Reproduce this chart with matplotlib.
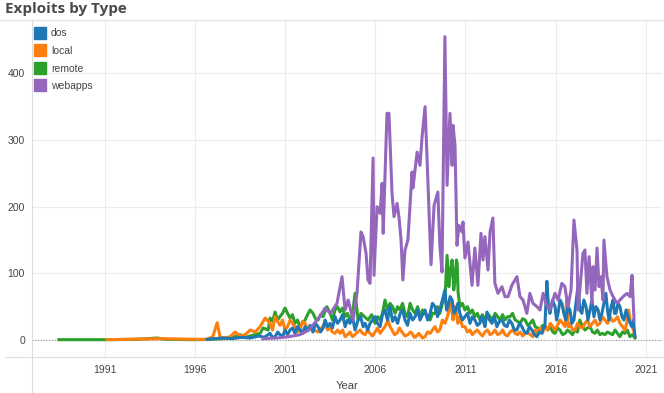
import matplotlib
matplotlib.use("Agg")
import matplotlib.pyplot as plt
from matplotlib.lines import Line2D

# ---------------- data (decimal years, exploit counts) ----------------
dos_years = [1996.68, 1997.08, 1997.58, 1998.07, 1998.57, 1999.06, 1999.56, 1999.85, 2000.17, 2000.30,
             2000.45, 2000.60, 2000.72, 2000.86, 2001.00, 2001.14, 2001.28, 2001.42, 2001.55, 2001.69,
             2001.83, 2001.97, 2002.11, 2002.25, 2002.39, 2002.47, 2002.55, 2002.69, 2002.83, 2002.97,
             2003.11, 2003.22, 2003.36, 2003.50, 2003.63, 2003.77, 2003.91, 2004.05, 2004.19, 2004.33,
             2004.46, 2004.60, 2004.74, 2004.88, 2005.05, 2005.19, 2005.33, 2005.44, 2005.58, 2005.71,
             2005.85, 2005.99, 2006.13, 2006.27, 2006.40, 2006.54, 2006.68, 2006.82, 2006.96, 2007.10,
             2007.24, 2007.38, 2007.51, 2007.65, 2007.79, 2007.93, 2008.07, 2008.21, 2008.35, 2008.48,
             2008.62, 2008.76, 2008.90, 2009.04, 2009.17, 2009.31, 2009.45, 2009.58, 2009.72, 2009.86,
             2009.95, 2010.03, 2010.15, 2010.26, 2010.37, 2010.47, 2010.58, 2010.69, 2010.83, 2010.97,
             2011.11, 2011.25, 2011.38, 2011.52, 2011.66, 2011.80, 2011.88, 2011.97, 2012.08, 2012.19,
             2012.33, 2012.47, 2012.60, 2012.74, 2012.88, 2013.02, 2013.16, 2013.30, 2013.43, 2013.57,
             2013.71, 2013.85, 2013.99, 2014.13, 2014.27, 2014.40, 2014.54, 2014.68, 2014.82, 2014.96,
             2015.10, 2015.24, 2015.32, 2015.40, 2015.51, 2015.60, 2015.68, 2015.82, 2015.96, 2016.05,
             2016.13, 2016.24, 2016.34, 2016.45, 2016.56, 2016.68, 2016.79, 2016.90, 2017.01, 2017.12,
             2017.23, 2017.34, 2017.45, 2017.56, 2017.68, 2017.79, 2017.90, 2018.01, 2018.12, 2018.23,
             2018.35, 2018.45, 2018.56, 2018.67, 2018.78, 2018.87, 2018.95, 2019.07, 2019.18, 2019.26,
             2019.34, 2019.45, 2019.56, 2019.67, 2019.78, 2019.90, 2020.01, 2020.12, 2020.23, 2020.31,
             2020.39]
dos_vals = [1, 2, 3, 2, 4, 3, 6, 4, 10, 4,
            5, 12, 8, 5, 15, 8, 15, 18, 10, 20,
            15, 10, 20, 14, 22, 18, 12, 25, 20, 12,
            18, 30, 20, 25, 18, 35, 25, 30, 38, 20,
            30, 25, 35, 15, 30, 35, 20, 25, 15, 25,
            30, 35, 25, 20, 38, 45, 30, 50, 28, 35,
            25, 40, 45, 30, 22, 40, 30, 35, 45, 30,
            38, 45, 30, 40, 55, 50, 35, 45, 60, 75,
            45, 50, 65, 60, 40, 45, 55, 40, 30, 35,
            40, 25, 35, 30, 22, 25, 35, 30, 20, 42,
            30, 25, 35, 20, 28, 30, 22, 20, 30, 25,
            15, 15, 25, 20, 12, 10, 20, 15, 8, 5,
            12, 10, 18, 20, 88, 50, 40, 60, 50, 30,
            40, 60, 55, 40, 30, 50, 45, 25, 30, 55,
            80, 45, 40, 60, 50, 30, 45, 60, 35, 50,
            45, 30, 40, 55, 70, 45, 30, 50, 60, 40,
            40, 55, 50, 35, 30, 45, 35, 25, 20, 30,
            5]

local_years = [1991.14, 1992.13, 1993.12, 1994.11, 1995.10, 1996.09, 1996.68, 1997.00, 1997.24, 1997.40,
               1997.68, 1997.96, 1998.23, 1998.51, 1998.79, 1999.07, 1999.35, 1999.62, 1999.90, 2000.17,
               2000.31, 2000.45, 2000.58, 2000.72, 2000.86, 2001.00, 2001.14, 2001.28, 2001.41, 2001.55,
               2001.69, 2001.83, 2001.97, 2002.11, 2002.25, 2002.39, 2002.60, 2002.83, 2003.02, 2003.22,
               2003.36, 2003.50, 2003.63, 2003.77, 2003.91, 2004.05, 2004.19, 2004.33, 2004.46, 2004.60,
               2004.74, 2004.88, 2005.02, 2005.16, 2005.30, 2005.44, 2005.58, 2005.71, 2005.85, 2005.99,
               2006.13, 2006.27, 2006.40, 2006.54, 2006.70, 2006.82, 2006.93, 2007.07, 2007.20, 2007.34,
               2007.48, 2007.65, 2007.81, 2007.95, 2008.04, 2008.16, 2008.26, 2008.40, 2008.48, 2008.62,
               2008.76, 2008.90, 2009.04, 2009.17, 2009.31, 2009.45, 2009.58, 2009.72, 2009.86, 2010.00,
               2010.14, 2010.26, 2010.31, 2010.40, 2010.47, 2010.58, 2010.69, 2010.83, 2010.97, 2011.11,
               2011.25, 2011.38, 2011.52, 2011.66, 2011.80, 2011.94, 2012.08, 2012.22, 2012.36, 2012.50,
               2012.64, 2012.78, 2012.92, 2013.06, 2013.19, 2013.33, 2013.47, 2013.61, 2013.75, 2013.89,
               2014.03, 2014.17, 2014.31, 2014.45, 2014.59, 2014.73, 2014.86, 2015.00, 2015.14, 2015.28,
               2015.42, 2015.56, 2015.70, 2015.84, 2015.96, 2016.10, 2016.24, 2016.38, 2016.52, 2016.60,
               2016.70, 2016.79, 2016.93, 2017.07, 2017.21, 2017.34, 2017.48, 2017.62, 2017.76, 2017.90,
               2018.04, 2018.18, 2018.31, 2018.45, 2018.59, 2018.73, 2018.87, 2019.01, 2019.15, 2019.29,
               2019.42, 2019.56, 2019.70, 2019.84, 2019.97, 2020.04, 2020.15, 2020.23, 2020.31, 2020.39]
local_vals = [0.5, 1, 1.5, 2, 1.5, 1, 1, 5, 26, 4,
              3, 5, 12, 6, 8, 15, 12, 20, 33, 25,
              15, 35, 28, 22, 30, 15, 20, 30, 25, 20,
              12, 15, 28, 25, 15, 20, 15, 12, 18, 25,
              15, 18, 12, 10, 15, 10, 15, 5, 8, 12,
              5, 8, 12, 15, 10, 8, 15, 10, 6, 12,
              18, 10, 15, 20, 30, 20, 15, 8, 10, 18,
              12, 6, 8, 12, 10, 4, 5, 10, 8, 3,
              5, 12, 10, 15, 20, 12, 15, 30, 25, 35,
              55, 40, 30, 50, 45, 25, 35, 20, 20, 12,
              15, 8, 12, 15, 10, 6, 12, 15, 8, 10,
              15, 8, 10, 15, 8, 6, 12, 15, 10, 8,
              12, 6, 10, 12, 8, 5, 15, 10, 18, 12,
              20, 15, 25, 20, 15, 22, 30, 25, 20, 60,
              20, 25, 15, 15, 25, 20, 18, 25, 30, 20,
              25, 30, 22, 25, 35, 30, 25, 35, 28, 30,
              35, 25, 20, 15, 30, 45, 25, 20, 15, 5]

remote_years = [1988.47, 1989.66, 1991.14, 1992.63, 1993.42, 1993.91, 1994.41, 1996.09, 1996.68, 1997.57,
                1998.23, 1998.51, 1998.79, 1999.07, 1999.35, 1999.62, 1999.79, 2000.07, 2000.17, 2000.31,
                2000.45, 2000.58, 2000.72, 2000.86, 2001.00, 2001.14, 2001.28, 2001.41, 2001.55, 2001.69,
                2001.83, 2001.97, 2002.11, 2002.25, 2002.39, 2002.55, 2002.69, 2002.83, 2002.97, 2003.11,
                2003.32, 2003.50, 2003.63, 2003.77, 2003.91, 2004.05, 2004.19, 2004.33, 2004.46, 2004.60,
                2004.74, 2004.88, 2005.05, 2005.21, 2005.40, 2005.61, 2005.80, 2005.99, 2006.13, 2006.27,
                2006.40, 2006.54, 2006.68, 2006.82, 2006.96, 2007.10, 2007.24, 2007.38, 2007.51, 2007.65,
                2007.79, 2007.93, 2008.07, 2008.21, 2008.35, 2008.48, 2008.62, 2008.76, 2008.90, 2009.04,
                2009.17, 2009.31, 2009.45, 2009.58, 2009.72, 2009.86, 2009.98, 2010.08, 2010.14, 2010.26,
                2010.35, 2010.42, 2010.50, 2010.54, 2010.59, 2010.69, 2010.83, 2010.97, 2011.11, 2011.25,
                2011.38, 2011.52, 2011.66, 2011.80, 2011.94, 2012.08, 2012.22, 2012.36, 2012.50, 2012.64,
                2012.78, 2012.92, 2013.06, 2013.19, 2013.33, 2013.47, 2013.61, 2013.75, 2013.89, 2014.03,
                2014.17, 2014.31, 2014.45, 2014.59, 2014.73, 2014.86, 2015.00, 2015.14, 2015.28, 2015.42,
                2015.56, 2015.70, 2015.84, 2015.96, 2016.10, 2016.24, 2016.38, 2016.52, 2016.66, 2016.79,
                2016.93, 2017.07, 2017.21, 2017.34, 2017.48, 2017.62, 2017.76, 2017.90, 2018.04, 2018.18,
                2018.31, 2018.45, 2018.59, 2018.73, 2018.87, 2019.01, 2019.15, 2019.29, 2019.42, 2019.56,
                2019.70, 2019.84, 2019.97, 2020.11, 2020.25, 2020.39]
remote_vals = [0.5, 0.5, 0.5, 1, 2, 3, 1, 0.5, 1, 2,
               5, 8, 4, 6, 8, 10, 18, 15, 33, 28,
               42, 30, 35, 40, 48, 40, 33, 38, 25, 30,
               20, 25, 30, 38, 45, 40, 32, 30, 38, 35,
               50, 40, 30, 45, 50, 42, 48, 35, 40, 30,
               38, 70, 30, 40, 35, 30, 38, 25, 35, 30,
               40, 60, 45, 55, 50, 40, 50, 45, 55, 40,
               35, 55, 45, 40, 50, 35, 45, 40, 35, 30,
               40, 40, 50, 40, 55, 60, 127, 80, 100, 120,
               75, 90, 120, 115, 72, 50, 55, 45, 50, 40,
               45, 35, 40, 30, 38, 30, 40, 35, 30, 40,
               35, 30, 38, 30, 35, 35, 40, 30, 28, 25,
               32, 30, 22, 25, 30, 20, 18, 15, 22, 20,
               15, 20, 12, 10, 18, 15, 8, 10, 15, 12,
               8, 15, 12, 30, 20, 15, 18, 20, 12, 10,
               15, 8, 10, 8, 12, 10, 8, 15, 10, 5,
               12, 10, 15, 5, 8, 3]

webapps_years = [1999.77, 2000.55, 2001.24, 2001.83, 2002.33, 2002.92, 2003.22, 2003.52, 2003.88, 2004.16,
                 2004.33, 2004.50, 2004.77, 2004.99, 2005.21, 2005.33, 2005.49, 2005.60, 2005.71, 2005.88,
                 2005.93, 2006.10, 2006.27, 2006.38, 2006.44, 2006.65, 2006.76, 2006.93, 2007.04, 2007.21,
                 2007.32, 2007.43, 2007.53, 2007.65, 2007.81, 2008.04, 2008.09, 2008.32, 2008.48, 2008.59,
                 2008.76, 2008.87, 2009.09, 2009.26, 2009.47, 2009.58, 2009.70, 2009.86, 2009.98, 2010.14,
                 2010.26, 2010.31, 2010.42, 2010.53, 2010.64, 2010.81, 2010.86, 2010.97, 2011.14, 2011.36,
                 2011.52, 2011.69, 2011.86, 2011.97, 2012.08, 2012.25, 2012.36, 2012.52, 2012.63, 2012.80,
                 2013.02, 2013.19, 2013.36, 2013.57, 2013.85, 2014.02, 2014.19, 2014.40, 2014.57, 2014.74,
                 2014.96, 2015.13, 2015.30, 2015.46, 2015.68, 2015.96, 2016.13, 2016.34, 2016.51, 2016.68,
                 2016.85, 2017.01, 2017.18, 2017.24, 2017.40, 2017.51, 2017.62, 2017.73, 2017.85, 2018.01,
                 2018.07, 2018.18, 2018.29, 2018.40, 2018.51, 2018.62, 2018.67, 2018.84, 2019.01, 2019.18,
                 2019.39, 2019.56, 2019.73, 2019.95, 2020.12, 2020.23, 2020.34]
webapps_vals = [2, 3, 5, 8, 15, 35, 48, 40, 55, 95,
                45, 60, 30, 70, 162, 155, 130, 90, 85, 273,
                97, 200, 190, 235, 160, 340, 340, 220, 185, 205,
                183, 150, 90, 135, 150, 252, 228, 282, 262, 303,
                350, 273, 113, 202, 222, 142, 102, 455, 232, 340,
                262, 322, 292, 142, 172, 162, 177, 123, 147, 82,
                138, 82, 160, 120, 155, 105, 162, 183, 85, 70,
                80, 65, 65, 82, 95, 65, 60, 40, 70, 55,
                50, 45, 70, 55, 45, 70, 60, 85, 80, 50,
                75, 180, 135, 45, 95, 130, 135, 70, 125, 55,
                110, 75, 138, 80, 95, 60, 150, 95, 75, 65,
                55, 60, 65, 70, 65, 97, 30]

series_names = ["dos", "local", "remote", "webapps"]
series_colors = ["#1f77b4", "#ff7f0e", "#2ca02c", "#9467bd"]
x_ticks = [1991, 1996, 2001, 2006, 2011, 2016, 2021]
y_ticks = [0, 100, 200, 300, 400]

# ---------------- figure ----------------
W, H = 664, 393
fig = plt.figure(figsize=(W / 100, H / 100), dpi=100)
plt.rcParams["font.family"] = ["Liberation Sans", "DejaVu Sans"]

L, R, T, B = 32, 662, 20, 357
ax = fig.add_axes([L / W, 1 - B / H, (R - L) / W, (B - T) / H])
ax.set_xlim(1986.98, 2021.89)
ax.set_ylim(-25.5, 480)

lw = 2.2
data = {
    "dos": (dos_years, dos_vals),
    "local": (local_years, local_vals),
    "remote": (remote_years, remote_vals),
    "webapps": (webapps_years, webapps_vals),
}
zorders = {"remote": 3, "local": 4, "dos": 5, "webapps": 6}
for name, color in zip(series_names, series_colors):
    xs, ys = data[name]
    ax.plot(xs, ys, color=color, lw=lw, zorder=zorders[name], solid_joinstyle="round")

# grid
ax.set_xticks(x_ticks)
ax.set_yticks(y_ticks)
ax.grid(True, color="#ececec", lw=0.8, zorder=0)
ax.axhline(0, color="#999999", lw=0.8, ls=(0, (1, 1.5)), zorder=2)
for s in ax.spines.values():
    s.set_visible(False)
ax.tick_params(axis="both", length=0, labelsize=7.5, labelcolor="#444444")
ax.tick_params(axis="y", pad=5)
ax.tick_params(axis="x", pad=6)
ax.set_xlabel("Year", fontsize=8, color="#444444", labelpad=4)

# frame lines (figure-level)
fig.add_artist(Line2D([L / W, L / W], [0, 1 - T / H], color="#dddddd", lw=0.8))
fig.add_artist(Line2D([5 / W, 1], [1 - B / H, 1 - B / H], color="#dddddd", lw=0.8))
fig.add_artist(Line2D([0, 1], [1 - T / H, 1 - T / H], color="#e6e6e6", lw=1.0))

fig.text(5 / W, 1 - 9 / H, "Exploits by Type", fontsize=11, fontweight="bold",
         color="#4a4a4a", va="center", ha="left", family=["Open Sans", "DejaVu Sans"])

handles = [Line2D([], [], marker="s", ls="none", markersize=8.5, color=c) for c in series_colors]
leg = ax.legend(handles, series_names, loc="upper left", bbox_to_anchor=(26 / W, 1 - 21 / H),
                bbox_transform=fig.transFigure, frameon=False, fontsize=7.5,
                handletextpad=0.5, labelspacing=0.73, borderpad=0.2, handlelength=1.2)
for t in leg.get_texts():
    t.set_color("#444444")

fig.savefig("out.png", dpi=100)
